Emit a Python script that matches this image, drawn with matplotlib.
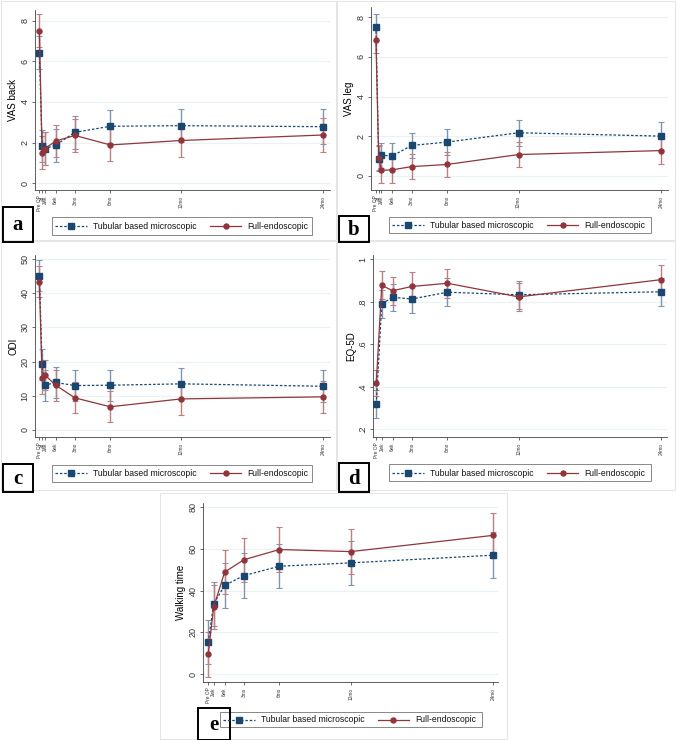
import matplotlib
matplotlib.use("Agg")
import matplotlib.pyplot as plt
from matplotlib.patches import Rectangle
from matplotlib.lines import Line2D

W, H = 676, 740
plt.rcParams['font.family'] = ['Liberation Sans', 'DejaVu Sans']

# time points (weeks)
x_full = [0, 1, 2, 6, 13, 26, 52, 104]
lab_full = ["Pre OP", "2d", "2wk", "6wk", "3mo", "6mo", "12mo", "24mo"]
x_short = [0, 2, 6, 13, 26, 52, 104]
lab_short = ["Pre OP", "2wk", "6wk", "3mo", "6mo", "12mo", "24mo"]

# Panel a: VAS back
vasb_tub = [6.42, 1.83, 1.70, 1.87, 2.50, 2.80, 2.83, 2.78]
vasb_tub_err = [0.82, 0.80, 0.80, 0.81, 0.80, 0.80, 0.81, 0.85]
vasb_end = [7.50, 1.50, 1.70, 2.07, 2.35, 1.88, 2.10, 2.37]
vasb_end_err = [0.81, 0.80, 0.80, 0.80, 0.80, 0.81, 0.80, 0.84]

# Panel b: VAS leg
vasl_tub = [7.52, 0.86, 1.03, 1.00, 1.53, 1.70, 2.17, 2.00]
vasl_tub_err = [0.65, 0.63, 0.64, 0.65, 0.65, 0.65, 0.65, 0.69]
vasl_end = [6.85, 0.91, 0.27, 0.30, 0.46, 0.57, 1.07, 1.27]
vasl_end_err = [0.65, 0.64, 0.64, 0.65, 0.64, 0.64, 0.64, 0.69]

# Panel c: ODI
odi_tub = [45.2, 19.2, 13.1, 13.9, 13.0, 13.1, 13.5, 12.8]
odi_tub_err = [4.5, 4.5, 4.5, 4.5, 4.5, 4.5, 4.6, 4.7]
odi_end = [43.4, 15.1, 16.1, 13.1, 9.4, 6.8, 9.1, 9.7]
odi_end_err = [4.5, 4.5, 4.5, 4.5, 4.5, 4.5, 4.6, 4.7]

# Panel d: EQ-5D
eq_tub = [0.320, 0.790, 0.821, 0.813, 0.845, 0.833, 0.847]
eq_tub_err = [0.065, 0.065, 0.063, 0.064, 0.065, 0.066, 0.067]
eq_end = [0.418, 0.877, 0.852, 0.872, 0.887, 0.823, 0.904]
eq_end_err = [0.063, 0.066, 0.065, 0.066, 0.067, 0.066, 0.067]

# Panel e: Walking time
walk_tub = [15.3, 33.6, 42.5, 47.2, 51.7, 53.3, 57.0]
walk_tub_err = [10.6, 10.6, 10.6, 10.7, 10.6, 10.6, 11.1]
walk_end = [9.5, 32.2, 48.9, 54.8, 59.7, 58.7, 66.5]
walk_end_err = [10.8, 10.7, 10.7, 10.6, 10.7, 10.6, 10.8]

series_names = ["Tubular based microscopic", "Full-endoscopic"]

BLUE = "#1a476f"
RED = "#90353b"
BLUE_E = "#7d95b0"
RED_E = "#bc7f84"
GRID = "#eaf2f3"
DASH = (0, (2, 1.5))

fig = plt.figure(figsize=(W / 100, H / 100), dpi=100)
fig.patch.set_facecolor("white")


def fr(l, t, r, b):
    return [l / W, 1 - b / H, (r - l) / W, (b - t) / H]


def fx(x):
    return x / W


def fy(y):
    return 1 - y / H


# light panel borders
for (l, t, r, b) in [(1, 1, 336, 240), (337, 1, 675, 240), (1, 241, 336, 490),
                     (337, 241, 675, 490), (160, 493, 507, 739)]:
    fig.add_artist(Rectangle((fx(l), fy(b)), (r - l) / W, (b - t) / H,
                             transform=fig.transFigure, fill=False,
                             edgecolor="#e4e4e4", linewidth=0.7))


def legend(box):
    l, t, r, b = box
    fig.add_artist(Rectangle((fx(l), fy(b)), (r - l) / W, (b - t) / H,
                             transform=fig.transFigure, fill=False,
                             edgecolor="#888888", linewidth=0.7))
    yc = (t + b) / 2
    specs = [(l + 3, l + 35, "s", 3.8, DASH, BLUE, l + 41, series_names[0]),
             (l + 158, l + 189, "o", 3.6, "-", RED, l + 195, series_names[1])]
    for x0, x1, mk, ms, ls, col, tx, name in specs:
        fig.add_artist(Line2D([fx(x0), fx(x1)], [fy(yc), fy(yc)],
                              transform=fig.transFigure, color=col,
                              linestyle=ls, linewidth=0.9))
        fig.add_artist(Line2D([fx((x0 + x1) / 2)], [fy(yc)],
                              transform=fig.transFigure, color=col,
                              marker=mk, markersize=ms, linestyle="none"))
        fig.text(fx(tx), fy(yc + 0.5), name, fontsize=6.2, ha="left",
                 va="center", color="#111111")


def panel(box, xs, xlabels, tub, tub_err, end, end_err, ylim, xlim, yticks,
          yticklabels, ylabel, legbox, letter, letbox):
    ax = fig.add_axes(fr(*box))
    ax.set_facecolor("white")
    for t in yticks:
        ax.axhline(t, color=GRID, linewidth=0.9, zorder=0)
    ax.errorbar(xs, tub, yerr=tub_err, fmt="none", ecolor=BLUE_E,
                elinewidth=1.0, capsize=2.0, capthick=0.8, zorder=2)
    ax.errorbar(xs, end, yerr=end_err, fmt="none", ecolor=RED_E,
                elinewidth=1.0, capsize=2.0, capthick=0.8, zorder=2)
    ax.plot(xs, tub, color=BLUE, linestyle=DASH, linewidth=0.9,
            marker="s", markersize=3.8, zorder=3)
    ax.plot(xs, end, color=RED, linestyle="-", linewidth=0.9,
            marker="o", markersize=3.6, zorder=3)
    ax.set_ylim(*ylim)
    ax.set_xlim(*xlim)
    ax.set_yticks(yticks)
    ax.set_yticklabels(yticklabels, rotation=90, va="center", fontsize=6.5)
    ax.set_xticks(xs)
    ax.set_xticklabels(xlabels, rotation=90, fontsize=3.4)
    ax.tick_params(axis="both", length=2.5, width=0.5, colors="#333333", pad=1.5)
    ax.set_ylabel(ylabel, fontsize=7, labelpad=1.5)
    for s in ["top", "right"]:
        ax.spines[s].set_visible(False)
    for s in ["left", "bottom"]:
        ax.spines[s].set_linewidth(0.6)
        ax.spines[s].set_color("#444444")
    legend(legbox)
    l, t, r, b = letbox
    fig.add_artist(Rectangle((fx(l), fy(b)), (r - l) / W, (b - t) / H,
                             transform=fig.transFigure, fill=False,
                             edgecolor="black", linewidth=1.4))
    fig.text(fx((l + r) / 2), fy((t + b) / 2 + 1), letter,
             family=["Liberation Serif", "DejaVu Serif"], weight="bold",
             fontsize=15, ha="center", va="center")
    return ax


panel((35, 10, 330, 190), x_full, lab_full, vasb_tub, vasb_tub_err,
      vasb_end, vasb_end_err, (-0.34, 8.53), (-1.6, 106.5),
      [0, 2, 4, 6, 8], ["0", "2", "4", "6", "8"], "VAS back",
      (52, 217, 312, 235), "a", (3, 207, 33, 242))

panel((371, 7, 668, 190), x_full, lab_full, vasl_tub, vasl_tub_err,
      vasl_end, vasl_end_err, (-0.72, 8.52), (-1.8, 106.5),
      [0, 2, 4, 6, 8], ["0", "2", "4", "6", "8"], "VAS leg",
      (389, 217, 651, 233), "b", (339, 216, 369, 242))

panel((35, 255, 330, 437), x_full, lab_full, odi_tub, odi_tub_err,
      odi_end, odi_end_err, (-2.05, 51.2), (-1.6, 106.5),
      [0, 10, 20, 30, 40, 50], ["0", "10", "20", "30", "40", "50"], "ODI",
      (52, 465, 312, 482), "c", (3, 464, 33, 492))

panel((373, 255, 667, 437), x_short, lab_short, eq_tub, eq_tub_err,
      eq_end, eq_end_err, (0.164, 1.02), (-1.2, 106.2),
      [0.2, 0.4, 0.6, 0.8, 1.0], [".2", ".4", ".6", ".8", "1"], "EQ-5D",
      (389, 464, 651, 481), "d", (339, 463, 369, 492))

panel((203, 503, 498, 682), x_short, lab_short, walk_tub, walk_tub_err,
      walk_end, walk_end_err, (-3.8, 82), (-1.9, 105.7),
      [0, 20, 40, 60, 80], ["0", "20", "40", "60", "80"], "Walking time",
      (220, 712, 482, 727), "e", (198, 708, 230, 740))

fig.savefig("out.png", dpi=100, facecolor="white")
